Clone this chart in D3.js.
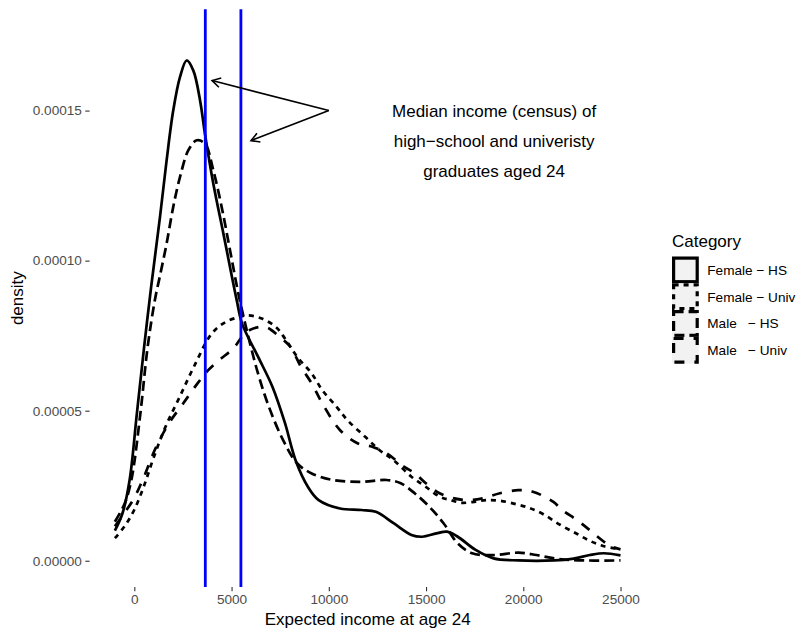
<!DOCTYPE html>
<html>
<head>
<meta charset="utf-8">
<script src="https://cdn.jsdelivr.net/npm/d3@7"></script>
<style>
  html, body { margin: 0; padding: 0; background: #fff; }
  svg { display: block; font-family: "Liberation Sans", Arial, Helvetica, sans-serif; }
</style>
</head>
<body>
<svg id="chart" width="801" height="634"></svg>
<script>
// Kernel density estimates of expected income at age 24, by gender and schooling
const categories = ["Female \u2212 HS", "Female \u2212 Univ", "Male   \u2212 HS", "Male   \u2212 Univ"];
const dashPatterns = [null, "5,5", "10,5", "10,10"];

// [income, density]
const femaleHS = [[-1000,1.0e-5],[-600,1.6e-5],[-240,2.7e-5],[130,4.9e-5],[500,7.1e-5],[860,9.1e-5],[1320,1.146e-4],[1660,1.334e-4],[2000,1.5e-4],[2350,1.612e-4],[2690,1.667e-4],[3030,1.634e-4],[3380,1.534e-4],[3630,1.423e-4],[4060,1.257e-4],[4580,1.09e-4],[5260,8.7e-5],[5540,7.9e-5],[6360,6.8e-5],[7100,5.8e-5],[7740,4.6e-5],[8290,3.35e-5],[8930,2.46e-5],[9480,2.02e-5],[10580,1.74e-5],[11680,1.69e-5],[12420,1.63e-5],[13330,1.25e-5],[14250,8.6e-6],[14800,8.0e-6],[15530,9.1e-6],[16080,9.7e-6],[16630,8.0e-6],[17550,3.6e-6],[18470,8e-7],[19750,1e-7],[21590,1e-7],[22500,6e-7],[23420,1.9e-6],[24150,2.5e-6],[25000,1.8e-6]];
const femaleUniv = [[-1000,7.5e-6],[-500,1.15e-5],[0,1.7e-5],[500,2.5e-5],[1000,3.45e-5],[1600,4.46e-5],[2330,5.46e-5],[3060,6.46e-5],[3980,7.57e-5],[4710,7.96e-5],[5450,8.13e-5],[5820,8.18e-5],[6550,8.07e-5],[7280,7.79e-5],[7740,7.41e-5],[8380,6.79e-5],[9120,6.24e-5],[9670,5.68e-5],[10400,5.13e-5],[10950,4.69e-5],[11870,4.13e-5],[12600,3.69e-5],[13330,3.35e-5],[14250,2.8e-5],[14990,2.46e-5],[15720,2.13e-5],[16270,2.02e-5],[16820,1.93e-5],[17550,1.97e-5],[18100,2.02e-5],[18800,2.0e-5],[19660,1.88e-5],[20350,1.75e-5],[21030,1.55e-5],[21890,1.2e-5],[22750,9e-6],[23430,6.6e-6],[24100,4.9e-6],[25000,3.8e-6]];
const maleHS = [[-1000,1.3e-5],[-500,1.9e-5],[-150,2.7e-5],[310,4.9e-5],[680,7.1e-5],[1060,8.7e-5],[1320,9.5e-5],[1660,1.057e-4],[2000,1.179e-4],[2350,1.279e-4],[2780,1.368e-4],[3210,1.401e-4],[3630,1.39e-4],[4060,1.301e-4],[4490,1.179e-4],[4920,1.035e-4],[5350,8.9e-5],[5850,7.5e-5],[6360,6.24e-5],[6920,5.13e-5],[7650,4.02e-5],[8380,3.24e-5],[9120,2.91e-5],[10220,2.69e-5],[11680,2.63e-5],[12970,2.69e-5],[13700,2.58e-5],[14430,2.24e-5],[15170,1.8e-5],[15900,1.25e-5],[16630,5.8e-6],[17370,2.5e-6],[18470,1.9e-6],[19750,2.7e-6],[20670,1.9e-6],[21590,8e-7],[22500,2e-7],[25000,1e-7]];
const maleUniv = [[-1000,1.15e-5],[-500,1.6e-5],[0,2.1e-5],[500,2.8e-5],[1050,3.69e-5],[1780,4.58e-5],[2510,5.24e-5],[3250,5.91e-5],[3800,6.35e-5],[4350,6.68e-5],[5080,7.07e-5],[5540,7.46e-5],[5910,7.68e-5],[6730,7.79e-5],[7470,7.46e-5],[8020,7.13e-5],[8570,6.46e-5],[9120,5.91e-5],[9670,5.24e-5],[10580,4.35e-5],[11500,3.91e-5],[12230,3.8e-5],[12970,3.58e-5],[13880,3.13e-5],[14430,2.91e-5],[14990,2.58e-5],[15720,2.24e-5],[16450,2.08e-5],[17190,2.02e-5],[17920,2.08e-5],[18800,2.25e-5],[19750,2.35e-5],[20490,2.3e-5],[21550,1.96e-5],[22000,1.69e-5],[22750,1.36e-5],[23420,1.02e-5],[23770,8.3e-6],[24460,5e-6],[25000,3.8e-6]];
const seriesValues = [femaleHS, femaleUniv, maleHS, maleUniv];

// Census medians (high-school, university)
const medianIncome = [3650, 5480];

// Annotation arrows: from the label towards each median line
const arrowFrom = [10000, 0.00015];
const arrowTo = [[4000, 0.00016], [6000, 0.00014]];
const noteLines = ["Median income (census) of", "high\u2212school and univeristy", "graduates aged 24"];
const notePos = [18500, 0.00014];

const xTicks = [0, 5000, 10000, 15000, 20000, 25000];
const yTicks = [0, 0.00005, 0.0001, 0.00015];
const xRange = [-1000, 25000];
const yRange = [0, 0.000175];

const svg = d3.select("#chart");
const panel = { left: 89.6, right: 645.8, top: 9.3, bottom: 587 };

const expand = (r) => { const d = (r[1] - r[0]) * 0.05; return [r[0] - d, r[1] + d]; };
const x = d3.scaleLinear().domain(expand(xRange)).range([panel.left, panel.right]);
const y = d3.scaleLinear().domain(expand(yRange)).range([panel.bottom, panel.top]);

// axes
const xAxis = svg.append("g")
  .attr("transform", `translate(0,${panel.bottom})`)
  .call(d3.axisBottom(x).tickValues(xTicks).tickSize(4.3).tickPadding(3.4).tickFormat(d3.format("d")));
const yAxis = svg.append("g")
  .attr("transform", `translate(${panel.left},0)`)
  .call(d3.axisLeft(y).tickValues(yTicks).tickSize(4.3).tickPadding(3.4).tickFormat(d3.format(".5f")));
[xAxis, yAxis].forEach(g => {
  g.select(".domain").remove();
  g.selectAll(".tick line").attr("stroke", "#333333").attr("stroke-width", 1.1);
  g.selectAll(".tick text").attr("fill", "#4D4D4D").style("font-size", "13.6px")
    .style("font-family", "'Liberation Sans', Arial, Helvetica, sans-serif");
});

svg.append("text")
  .attr("x", (panel.left + panel.right) / 2).attr("y", 625)
  .attr("text-anchor", "middle").style("font-size", "17px").attr("fill", "#000")
  .text("Expected income at age 24");
svg.append("text")
  .attr("transform", `translate(23,${(panel.top + panel.bottom) / 2}) rotate(-90)`)
  .attr("text-anchor", "middle").style("font-size", "17px").attr("fill", "#000")
  .text("density");

// density curves
const line = d3.line().x(d => x(d[0])).y(d => y(d[1])).curve(d3.curveCatmullRom.alpha(0.5));
const curves = svg.append("g");
seriesValues.forEach((vals, i) => {
  curves.append("path")
    .attr("d", line(vals))
    .attr("fill", "none")
    .attr("stroke", "#000")
    .attr("stroke-width", 2.7)
    .attr("stroke-dasharray", dashPatterns[i])
    .attr("stroke-linejoin", "round");
});

// median lines
svg.append("g").selectAll("line").data(medianIncome).join("line")
  .attr("x1", d => x(d)).attr("x2", d => x(d))
  .attr("y1", panel.top).attr("y2", panel.bottom)
  .attr("stroke", "#0000FF").attr("stroke-width", 2.8);

// arrows
const arrows = svg.append("g").attr("stroke", "#000").attr("stroke-width", 1.6).attr("fill", "none");
arrowTo.forEach(t => {
  const x0 = x(arrowFrom[0]), y0 = y(arrowFrom[1]);
  const x1 = x(t[0]), y1 = y(t[1]);
  arrows.append("line").attr("x1", x0).attr("y1", y0).attr("x2", x1).attr("y2", y1);
  const ang = Math.atan2(y0 - y1, x0 - x1);
  const len = 9.5, spread = Math.PI / 6;
  const p1 = [x1 + len * Math.cos(ang + spread), y1 + len * Math.sin(ang + spread)];
  const p2 = [x1 + len * Math.cos(ang - spread), y1 + len * Math.sin(ang - spread)];
  arrows.append("path").attr("d", `M${p1[0]},${p1[1]}L${x1},${y1}L${p2[0]},${p2[1]}`);
});

// annotation text
const note = svg.append("text")
  .attr("text-anchor", "middle").style("font-size", "17px").attr("fill", "#000");
noteLines.forEach((t, i) => {
  note.append("tspan")
    .attr("x", x(notePos[0]))
    .attr("y", y(notePos[1]) + 6 + (i - 1) * 30)
    .text(t);
});

// legend
const legend = svg.append("g").attr("transform", "translate(672,0)");
legend.append("text").attr("x", 0).attr("y", 247).style("font-size", "17px").attr("fill", "#000").text("Category");
const keySize = 26.8, keyTop = 256.5;
categories.forEach((c, i) => {
  const ky = keyTop + i * keySize;
  legend.append("rect").attr("x", 0).attr("y", ky).attr("width", keySize).attr("height", keySize).attr("fill", "#F2F2F2");
  legend.append("rect")
    .attr("x", 1.6).attr("y", ky + 1.6).attr("width", keySize - 3.2).attr("height", keySize - 3.2)
    .attr("fill", "none").attr("stroke", "#000").attr("stroke-width", 3.2)
    .attr("stroke-dasharray", dashPatterns[i]).attr("stroke-linejoin", "miter");
  legend.append("text")
    .attr("x", keySize + 8.5).attr("y", ky + keySize / 2 + 4.8)
    .style("font-size", "13.6px").style("white-space", "pre").attr("fill", "#000")
    .text(c);
});
</script>
</body>
</html>
